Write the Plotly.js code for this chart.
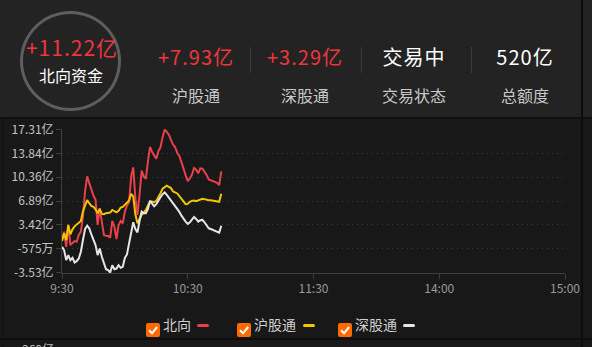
<!DOCTYPE html>
<html>
<head>
<meta charset="utf-8">
<script src="https://cdn.plot.ly/plotly-3.0.1.min.js"></script>
<style>
html,body{margin:0;padding:0;background:#181818;}
#wrap{position:relative;width:592px;height:347px;overflow:hidden;background:#181818;font-family:"Noto Sans CJK SC","Noto Sans",sans-serif;}
.abs{position:absolute;}
.t{position:absolute;text-align:center;white-space:nowrap;line-height:1;}
</style>
</head>
<body>
<div id="wrap">
  <div class="abs" style="left:0;top:0;width:592px;height:117px;background:#232323;z-index:0"></div>
  <div class="abs" style="left:0;top:117px;width:592px;height:2px;background:#101010;z-index:0"></div>
  <div class="abs" style="left:0;top:338px;width:592px;height:2px;background:#0e0e0e;z-index:0"></div>
  <div class="abs" style="left:2px;top:119px;width:1px;height:228px;background:#111;z-index:0"></div>
  <div class="abs" style="left:581px;top:0;width:2px;height:347px;background:#0c0c0c;z-index:3"></div>
  <div id="chart" class="abs" style="left:0;top:0;width:592px;height:347px;z-index:1"></div>
  <div id="overlay" class="abs" style="left:0;top:0;width:592px;height:347px;z-index:2"></div>
</div>
<script>
// ---------- data ----------
const minutes = [0,1,2,3,4,5,6,7,8,9,10,11,12,13,14,15,16,17,18,19,20,21,22,23,24,25,26,27,28,29,30,31,32,33,34,35,36,37,38,39,40,41,42,43,44,45,46,47,48,49,50,51,52,53,54,55,56,57,58,59,60,61,62,63,64,65,66,67,68,69,70,71,72,73,74,75,76];
const northbound = [1.20,2.42,0.22,3.40,0.47,0.71,1.05,0.96,1.93,2.42,
  4.62,8.28,10.48,9.50,8.52,7.69,7.06,3.40,5.84,3.89,
  1.93,1.84,1.79,1.54,3.98,3.15,1.35,3.40,3.98,3.64,
  5.35,6.23,6.72,10.48,11.79,7.30,4.86,7.79,11.31,10.48,
  10.13,12.67,14.77,14.04,13.55,13.06,14.14,14.72,16.19,17.31,
  16.97,16.53,15.80,15.11,14.72,13.89,13.45,12.62,11.60,10.62,
  9.79,10.18,10.72,11.70,11.45,10.92,11.65,11.60,11.21,10.67,
  10.04,9.89,9.79,9.70,9.55,9.21,11.22];
const shanghai = [1.05,2.18,1.20,3.40,2.03,2.76,3.20,3.50,3.69,3.98,
  5.40,6.33,7.01,6.57,6.18,6.03,5.69,5.11,5.74,5.01,
  4.96,5.11,5.16,5.20,5.59,5.45,5.25,5.45,5.94,6.03,
  6.33,6.52,6.96,7.94,7.55,4.96,3.64,4.28,4.86,5.20,
  5.59,6.23,6.82,6.82,6.72,6.91,7.40,8.04,8.67,8.96,
  9.11,8.96,8.77,8.28,8.08,7.99,7.60,7.25,6.77,6.42,
  6.47,6.77,6.91,6.96,6.86,6.96,7.11,7.21,7.16,7.06,
  7.01,7.01,6.96,6.91,6.82,6.77,7.93];
const shenzhen = [0.22,-0.26,-1.73,-1.00,-1.73,-1.39,-2.07,-1.88,-1.48,-0.51,
  1.20,2.81,3.30,2.91,2.03,1.35,0.47,-1.00,-0.02,-1.24,
  -2.22,-3.05,-3.19,-3.53,-2.46,-3.05,-2.95,-2.46,-2.85,-2.70,
  -1.39,-0.90,0.71,2.42,3.79,2.81,2.32,3.98,5.35,5.11,
  5.11,5.74,6.91,6.52,6.13,6.42,7.06,7.45,7.89,8.13,
  7.79,7.40,7.01,6.62,6.23,5.74,5.30,4.76,4.28,3.89,
  3.54,3.79,4.18,4.57,4.28,3.89,4.08,4.13,3.79,3.25,
  2.91,2.81,2.67,2.57,2.42,2.28,3.29];

const seriesNames = ['北向','沪股通','深股通'];
const seriesColors = ['#e8414a','#f2c500','#e6e6e6'];

const xTickVals = [0,60,120,180,240];
const xTickText = ['9:30','10:30','11:30','14:00','15:00'];
const yTickVals = [17.31,13.84,10.36,6.89,3.42,-0.0575,-3.53];
const yTickText = ['17.31亿','13.84亿','10.36亿','6.89亿','3.42亿','-575万','-3.53亿'];

const mainValue = '+11.22亿';
const mainLabel = '北向资金';
const headerValues = ['+7.93亿','+3.29亿','交易中','520亿'];
const headerLabels = ['沪股通','深股通','交易状态','总额度'];
const nextChartTick = '360亿';

// ---------- chart ----------
const ys = [northbound, shanghai, shenzhen];
const traces = ys.map((y,i)=>({
  x: minutes, y: y, type:'scatter', mode:'lines', name: seriesNames[i],
  line:{color: seriesColors[i], width:2}, hoverinfo:'skip'
}));

const fontFam = '"Noto Sans CJK SC","Noto Sans",sans-serif';
const layout = {
  width:592, height:347,
  margin:{l:62, r:27, t:129, b:74, pad:0},
  paper_bgcolor:'rgba(0,0,0,0)', plot_bgcolor:'rgba(0,0,0,0)',
  showlegend:false,
  font:{family:fontFam, size:12, color:'#bbbbbb'},
  xaxis:{range:[0,240], tickmode:'array', tickvals:xTickVals, ticktext:xTickText,
    showgrid:false, zeroline:false, showline:true, linecolor:'#3e3e3e', linewidth:1,
    ticks:'outside', ticklen:5, tickcolor:'#3e3e3e', tickwidth:1,
    tickfont:{family:fontFam, size:12, color:'#9a9a9a'}, fixedrange:true},
  yaxis:{range:[-3.60,17.38], tickmode:'array', tickvals:yTickVals, ticktext:yTickText,
    showgrid:true, gridcolor:'#3a3a3a', gridwidth:1, griddash:'1px,4px',
    zeroline:false, showline:true, linecolor:'#3e3e3e', linewidth:1,
    ticks:'outside', ticklen:5, tickcolor:'#3e3e3e', tickwidth:1,
    tickfont:{family:fontFam, size:12, color:'#c4c4c4'}, fixedrange:true}
};
Plotly.newPlot('chart', traces, layout, {staticPlot:true, displayModeBar:false});

// ---------- header & legend ----------
const ov = document.getElementById('overlay');
function txt(s, cx, cy, fs, color, ls){
  const d = document.createElement('div');
  d.className = 't';
  d.textContent = s;
  d.style.fontSize = fs + 'px';
  d.style.color = color;
  if (ls) d.style.letterSpacing = ls + 'px';
  d.style.width = '200px';
  d.style.left = (cx - 100) + 'px';
  d.style.top = (cy - 0.56*fs) + 'px';
  ov.appendChild(d);
  return d;
}
function box(l,t,w,h,bg,extra){
  const d = document.createElement('div');
  d.className='abs';
  d.style.left=l+'px'; d.style.top=t+'px'; d.style.width=w+'px'; d.style.height=h+'px';
  d.style.background=bg;
  if(extra) Object.assign(d.style, extra);
  ov.appendChild(d);
  return d;
}
// circle
box(20,11,101,100,'transparent',{border:'3px solid #5e5e5e', borderRadius:'50%', boxSizing:'border-box'});
const red = '#f0353d';
txt(mainValue, 72, 49, 21, red, 1);
txt(mainLabel, 71, 75.5, 16, '#ffffff');

const colX = [196, 305, 414, 525];
const valColors = [red, red, '#ffffff', '#ffffff'];
headerValues.forEach((v,i)=>{
  txt(v, colX[i], 58, 20, valColors[i], 1);
  txt(headerLabels[i], colX[i], 96, 16, '#c8c8c8');
});
[250, 361, 471].forEach(x=> box(x, 47, 1, 26, '#3c3c3c'));

// legend
const cbX = [146, 237, 338];
const textX = [163, 254, 355];
const dashX = [197, 303, 403];
seriesNames.forEach((n,i)=>{
  const cb = box(cbX[i], 318, 14, 14, 'transparent');
  cb.innerHTML = '<svg width="14" height="14"><rect width="14" height="14" rx="2" fill="#ff6a00"/>' +
    '<polyline points="3,7.3 6,10.3 11.2,4" fill="none" stroke="#ffffff" stroke-width="2"/></svg>';
  const d = document.createElement('div');
  d.className='t';
  d.textContent = n;
  d.style.fontSize='14px'; d.style.color='#d0d0d0';
  d.style.left = textX[i]+'px'; d.style.top=(325-0.56*14)+'px'; d.style.textAlign='left';
  ov.appendChild(d);
  box(dashX[i], 323.5, 12, 3, seriesColors[i], {borderRadius:'1.5px'});
});

// partial tick of next chart below
const nt = document.createElement('div');
nt.className='t';
nt.textContent = nextChartTick;
nt.style.fontSize='12px'; nt.style.color='#bbbbbb';
nt.style.right = (592-54)+'px'; nt.style.top='343px'; nt.style.textAlign='right';
ov.appendChild(nt);
</script>
</body>
</html>
